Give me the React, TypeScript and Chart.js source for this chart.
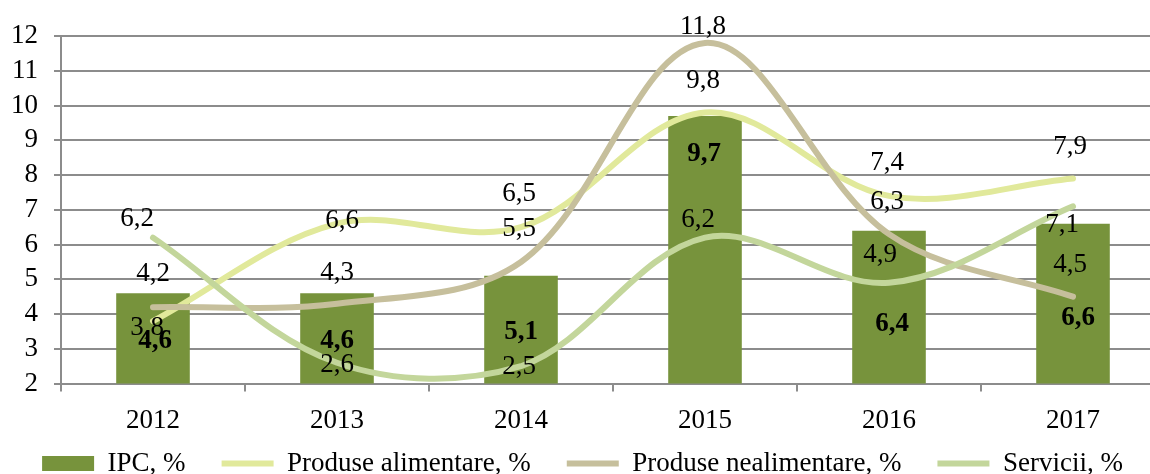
import React, { useEffect, useRef } from 'react';
import { Chart, registerables } from 'chart.js';

Chart.register(...registerables);

const categories = ['2012', '2013', '2014', '2015', '2016', '2017'];
const ipc = [4.6, 4.6, 5.1, 9.7, 6.4, 6.6];
const alimentare = [3.8, 6.6, 6.5, 9.8, 7.4, 7.9];
const nealimentare = [4.2, 4.3, 5.5, 11.8, 6.3, 4.5];
const servicii = [6.2, 2.6, 2.5, 6.2, 4.9, 7.1];
const seriesNames = ['IPC, %', 'Produse alimentare, %', 'Produse nealimentare, %', 'Servicii, %'];
const yTickValues = [2, 3, 4, 5, 6, 7, 8, 9, 10, 11, 12];

// label placement offsets (px) relative to each mark: [dx, dy]
const LABEL_OFFSETS: number[][][] = [
  [[2, 48], [0, 48], [0, 56], [-1, 38], [3, 93], [5, 94]],
  [[-6, 7], [5, -3], [-2, -33], [-2, -32], [-2, -33], [-3, -32]],
  [[0, -33], [0, -31], [-2, -33], [-2, -16], [-2, -32], [-3, -32]],
  [[-16, -19], [0, 2], [-2, 1], [-7, -18], [-9, -28], [-11, 19]],
];

const FONT = '"Liberation Serif", "Times New Roman", serif';
const FS = 27;
const GRID = '#8c8c8c';
const LEGEND_SHIFT = -36;

const fmt = (v: number) => v.toFixed(1).replace('.', ',');

const labelPlugin = {
  id: 'valueLabels',
  afterDatasetsDraw(chart: any) {
    const ctx = chart.ctx;
    ctx.save();
    ctx.textAlign = 'center';
    ctx.textBaseline = 'middle';
    ctx.fillStyle = '#000';
    chart.data.datasets.forEach((ds: any, i: number) => {
      const meta = chart.getDatasetMeta(i);
      ctx.font = (i === 0 ? 'bold ' : '') + FS + 'px ' + FONT;
      meta.data.forEach((el: any, j: number) => {
        const [dx, dy] = LABEL_OFFSETS[i][j];
        ctx.fillText(fmt(ds.data[j]), el.x + dx, el.y + dy);
      });
    });
    ctx.restore();
  },
};

const legendShiftPlugin = {
  id: 'legendShift',
  afterLayout(chart: any) {
    const lg = chart.legend;
    if (lg) {
      lg.top += LEGEND_SHIFT;
      lg.bottom += LEGEND_SHIFT;
    }
  },
};

export default function App() {
  const ref = useRef<HTMLCanvasElement | null>(null);

  useEffect(() => {
    if (!ref.current) return;
    const lineDs = (label: string, data: number[], color: string, order: number) => ({
      type: 'line' as const,
      label,
      data,
      borderColor: color,
      backgroundColor: color,
      borderWidth: 6,
      borderCapStyle: 'round' as const,
      borderJoinStyle: 'round' as const,
      pointRadius: 0,
      pointHoverRadius: 0,
      pointStyle: 'line',
      tension: 0.35,
      fill: false,
      order,
    });
    const chart = new Chart(ref.current, {
      type: 'bar',
      data: {
        labels: categories,
        datasets: [
          {
            type: 'bar' as const,
            label: seriesNames[0],
            data: ipc,
            backgroundColor: '#77933C',
            borderWidth: 0,
            barPercentage: 0.4,
            categoryPercentage: 1,
            pointStyle: 'rect',
            order: 3,
          } as any,
          lineDs(seriesNames[1], alimentare, '#E1E99B', 2),
          lineDs(seriesNames[2], nealimentare, '#C6BF9C', 1),
          lineDs(seriesNames[3], servicii, '#C3D69B', 0),
        ],
      },
      options: {
        responsive: false,
        animation: false,
        devicePixelRatio: 1,
        layout: { padding: { top: 36, right: 55, left: 0, bottom: 0 } },
        plugins: {
          tooltip: { enabled: false },
          legend: {
            position: 'bottom',
            labels: {
              usePointStyle: true,
              pointStyleWidth: 52,
              boxHeight: 15,
              padding: 36,
              color: '#000',
              font: { family: FONT, size: FS },
              sort: (a: any, b: any) => a.datasetIndex - b.datasetIndex,
            },
          },
        },
        scales: {
          x: {
            offset: true,
            grid: {
              display: true,
              drawOnChartArea: false,
              drawTicks: true,
              tickLength: 8,
              color: GRID,
              lineWidth: 2,
              offset: true,
            },
            border: { display: true, color: GRID, width: 2 },
            ticks: {
              color: '#000',
              font: { family: FONT, size: FS },
              padding: 13,
              maxRotation: 0,
              autoSkip: false,
            },
          },
          y: {
            min: yTickValues[0],
            max: yTickValues[yTickValues.length - 1],
            ticks: {
              color: '#000',
              font: { family: FONT, size: FS },
              padding: 16,
              autoSkip: false,
            },
            afterBuildTicks: (s: any) => {
              s.ticks = yTickValues.map((v) => ({ value: v }));
            },
            grid: { color: GRID, lineWidth: 2, tickLength: 7, drawTicks: true },
            border: { display: true, color: GRID, width: 2 },
            afterFit: (s: any) => {
              s.width = 61;
            },
          },
        },
      },
      plugins: [labelPlugin, legendShiftPlugin],
    } as any);
    return () => chart.destroy();
  }, []);

  return (
    <div
      style={{
        position: 'absolute',
        left: 0,
        top: 0,
        width: 1150,
        height: 474,
        overflow: 'hidden',
        background: '#fff',
      }}
    >
      <canvas ref={ref} width={1220} height={523} style={{ display: 'block', width: 1220, height: 523 }} />
    </div>
  );
}
